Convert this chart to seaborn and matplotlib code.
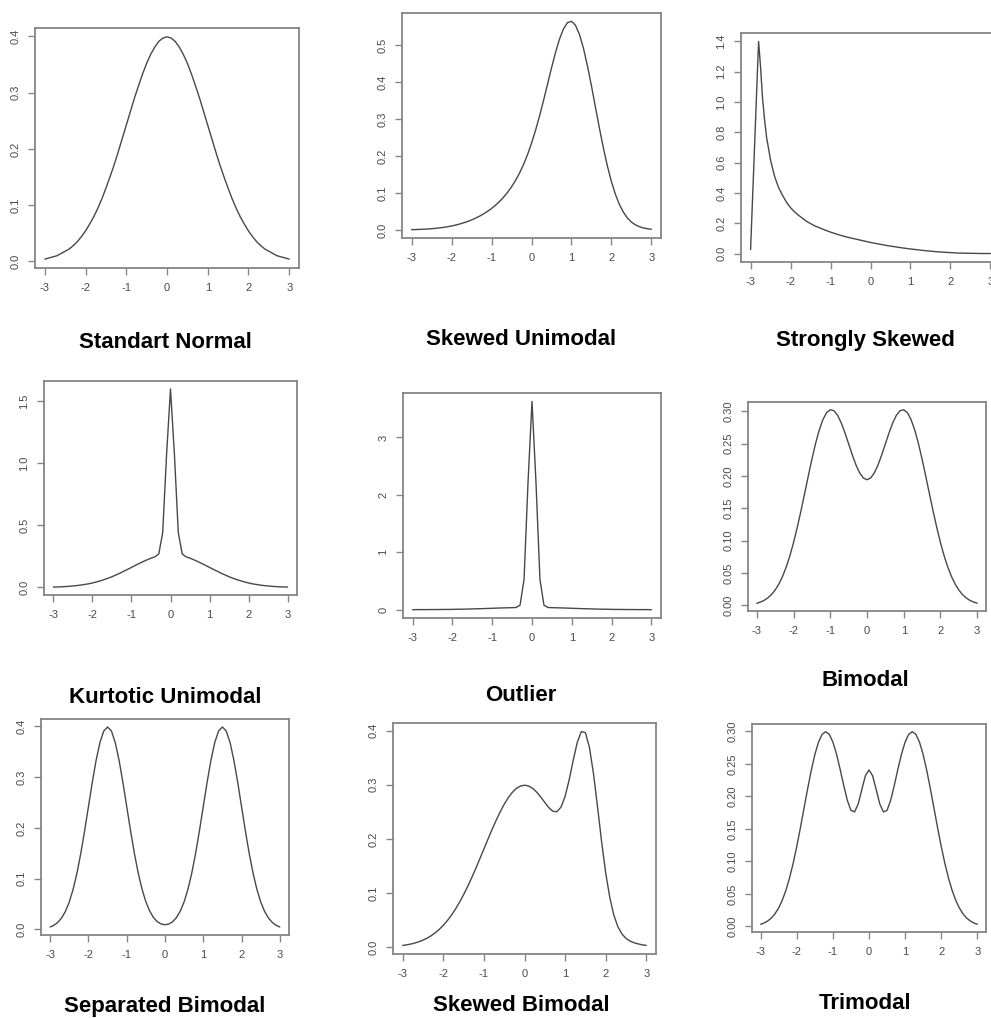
import matplotlib
matplotlib.use("Agg")
import matplotlib.pyplot as plt
import seaborn as sns


# x grids the densities were read on
X_FINE = [-3.0, -2.9, -2.8, -2.7, -2.6, -2.5, -2.4, -2.3, -2.2, -2.1,
          -2.0, -1.9, -1.8, -1.7, -1.6, -1.5, -1.4, -1.3, -1.2, -1.1,
          -1.0, -0.9, -0.8, -0.7, -0.6, -0.5, -0.4, -0.3, -0.2, -0.1,
          0.0, 0.1, 0.2, 0.3, 0.4, 0.5, 0.6, 0.7, 0.8, 0.9,
          1.0, 1.1, 1.2, 1.3, 1.4, 1.5, 1.6, 1.7, 1.8, 1.9,
          2.0, 2.1, 2.2, 2.3, 2.4, 2.5, 2.6, 2.7, 2.8, 2.9, 3.0]
# the strongly skewed curve: straight rise, then finer points down the peak
X_SKEW = [-3.0, -2.8, -2.75, -2.7, -2.65, -2.6, -2.5, -2.4, -2.3, -2.2,
          -2.1, -2.0, -1.9, -1.8, -1.6, -1.4, -1.2, -1.0, -0.8, -0.6,
          -0.4, -0.2, 0.0, 0.2, 0.4, 0.6, 0.8, 1.0, 1.2, 1.4,
          1.6, 1.8, 2.0, 2.2, 2.4, 2.6, 2.8, 3.0]

standard_normal = [0.004, 0.006, 0.008, 0.010, 0.014, 0.018, 0.022, 0.028, 0.035, 0.044,
                   0.054, 0.066, 0.079, 0.094, 0.111, 0.130, 0.150, 0.171, 0.194, 0.218,
                   0.242, 0.266, 0.290, 0.312, 0.333, 0.352, 0.368, 0.381, 0.391, 0.397,
                   0.399, 0.397, 0.391, 0.381, 0.368, 0.352, 0.333, 0.312, 0.290, 0.266,
                   0.242, 0.218, 0.194, 0.171, 0.150, 0.130, 0.111, 0.094, 0.079, 0.066,
                   0.054, 0.044, 0.035, 0.028, 0.022, 0.018, 0.014, 0.010, 0.008, 0.006, 0.004]

skewed_unimodal = [0.0009, 0.0012, 0.0016, 0.0021, 0.0027, 0.0035, 0.0045, 0.0057, 0.0071, 0.0089,
                   0.0109, 0.0133, 0.0161, 0.0193, 0.0230, 0.0272, 0.0320, 0.0374, 0.0436, 0.0505,
                   0.0583, 0.0672, 0.0772, 0.0886, 0.1017, 0.1167, 0.1340, 0.1540, 0.1771, 0.2038,
                   0.2345, 0.2694, 0.3081, 0.3501, 0.3942, 0.4384, 0.4801, 0.5165, 0.5444, 0.5612,
                   0.5648, 0.5541, 0.5293, 0.4918, 0.4443, 0.3900, 0.3325, 0.2752, 0.2212, 0.1726,
                   0.1308, 0.0963, 0.0689, 0.0480, 0.0325, 0.0215, 0.0139, 0.0089, 0.0055, 0.0034, 0.0021]

strongly_skewed = [0.027, 1.399, 1.229, 1.021, 0.882, 0.767, 0.616, 0.510, 0.436, 0.384,
                   0.338, 0.303, 0.276, 0.253, 0.213, 0.184, 0.162, 0.142, 0.125, 0.110,
                   0.098, 0.086, 0.074, 0.064, 0.054, 0.046, 0.038, 0.031, 0.025, 0.019,
                   0.014, 0.010, 0.007, 0.004, 0.003, 0.002, 0.001, 0.001]

kurtotic_unimodal = [0.003, 0.004, 0.005, 0.007, 0.009, 0.012, 0.015, 0.019, 0.024, 0.029,
                     0.036, 0.044, 0.053, 0.063, 0.074, 0.086, 0.100, 0.114, 0.130, 0.145,
                     0.161, 0.177, 0.193, 0.208, 0.222, 0.235, 0.246, 0.269, 0.441, 1.071,
                     1.596, 1.071, 0.441, 0.269, 0.246, 0.235, 0.222, 0.208, 0.193, 0.177,
                     0.161, 0.145, 0.130, 0.114, 0.100, 0.086, 0.074, 0.063, 0.053, 0.044,
                     0.036, 0.029, 0.024, 0.019, 0.015, 0.012, 0.009, 0.007, 0.005, 0.004, 0.003]

outlier = [0.000, 0.001, 0.001, 0.001, 0.001, 0.002, 0.002, 0.003, 0.004, 0.004,
           0.005, 0.007, 0.008, 0.009, 0.011, 0.013, 0.015, 0.017, 0.019, 0.022,
           0.024, 0.027, 0.029, 0.031, 0.033, 0.035, 0.038, 0.078, 0.525, 2.217,
           3.630, 2.217, 0.525, 0.078, 0.038, 0.035, 0.033, 0.031, 0.029, 0.027,
           0.024, 0.022, 0.019, 0.017, 0.015, 0.013, 0.011, 0.009, 0.008, 0.007,
           0.005, 0.004, 0.004, 0.003, 0.002, 0.002, 0.001, 0.001, 0.001, 0.001, 0.000]

bimodal = [0.0033, 0.0052, 0.0078, 0.0116, 0.0168, 0.0238, 0.0330, 0.0447, 0.0592, 0.0767,
           0.0971, 0.1203, 0.1457, 0.1725, 0.1997, 0.2261, 0.2504, 0.2712, 0.2873, 0.2980,
           0.3025, 0.3010, 0.2939, 0.2820, 0.2667, 0.2497, 0.2326, 0.2171, 0.2049, 0.1970,
           0.1943, 0.1970, 0.2049, 0.2171, 0.2326, 0.2497, 0.2667, 0.2820, 0.2939, 0.3010,
           0.3025, 0.2980, 0.2873, 0.2712, 0.2504, 0.2261, 0.1997, 0.1725, 0.1457, 0.1203,
           0.0971, 0.0767, 0.0592, 0.0447, 0.0330, 0.0238, 0.0168, 0.0116, 0.0078, 0.0052, 0.0033]

separated_bimodal = [0.0044, 0.0079, 0.0136, 0.0224, 0.0355, 0.0540, 0.0790, 0.1109, 0.1497, 0.1942,
                     0.2420, 0.2897, 0.3332, 0.3683, 0.3910, 0.3989, 0.3910, 0.3683, 0.3332, 0.2897,
                     0.2420, 0.1942, 0.1497, 0.1109, 0.0790, 0.0541, 0.0358, 0.0230, 0.0148, 0.0103,
                     0.0089, 0.0103, 0.0148, 0.0230, 0.0358, 0.0541, 0.0790, 0.1109, 0.1497, 0.1942,
                     0.2420, 0.2897, 0.3332, 0.3683, 0.3910, 0.3989, 0.3910, 0.3683, 0.3332, 0.2897,
                     0.2420, 0.1942, 0.1497, 0.1109, 0.0790, 0.0540, 0.0355, 0.0224, 0.0136, 0.0079, 0.0044]

skewed_bimodal = [0.0033, 0.0045, 0.0059, 0.0078, 0.0102, 0.0131, 0.0168, 0.0212, 0.0266, 0.0330,
                  0.0405, 0.0492, 0.0592, 0.0705, 0.0832, 0.0971, 0.1123, 0.1285, 0.1456, 0.1634,
                  0.1815, 0.1996, 0.2173, 0.2342, 0.2499, 0.2641, 0.2762, 0.2860, 0.2933, 0.2977,
                  0.2992, 0.2978, 0.2934, 0.2865, 0.2775, 0.2674, 0.2577, 0.2510, 0.2503, 0.2588,
                  0.2786, 0.3090, 0.3452, 0.3784, 0.3983, 0.3963, 0.3692, 0.3204, 0.2588, 0.1948,
                  0.1376, 0.0922, 0.0596, 0.0380, 0.0246, 0.0164, 0.0115, 0.0083, 0.0061, 0.0045, 0.0033]

trimodal = [0.0033, 0.0054, 0.0086, 0.0131, 0.0197, 0.0286, 0.0405, 0.0557, 0.0746, 0.0971,
            0.1230, 0.1515, 0.1815, 0.2114, 0.2396, 0.2641, 0.2830, 0.2951, 0.2993, 0.2953,
            0.2834, 0.2649, 0.2417, 0.2166, 0.1938, 0.1785, 0.1760, 0.1880, 0.2102, 0.2316,
            0.2405, 0.2316, 0.2102, 0.1880, 0.1760, 0.1785, 0.1938, 0.2166, 0.2417, 0.2649,
            0.2834, 0.2953, 0.2993, 0.2951, 0.2830, 0.2641, 0.2396, 0.2114, 0.1815, 0.1515,
            0.1230, 0.0971, 0.0746, 0.0557, 0.0405, 0.0286, 0.0197, 0.0131, 0.0086, 0.0054, 0.0033]

titles = ["Standart Normal", "Skewed Unimodal", "Strongly Skewed",
          "Kurtotic Unimodal", "Outlier", "Bimodal",
          "Separated Bimodal", "Skewed Bimodal", "Trimodal"]

x_ticks = [-3, -2, -1, 0, 1, 2, 3]
y_ticks = [
    ([0.0, 0.1, 0.2, 0.3, 0.4], "{:.1f}"),
    ([0.0, 0.1, 0.2, 0.3, 0.4, 0.5], "{:.1f}"),
    ([0.0, 0.2, 0.4, 0.6, 0.8, 1.0, 1.2, 1.4], "{:.1f}"),
    ([0.0, 0.5, 1.0, 1.5], "{:.1f}"),
    ([0, 1, 2, 3], "{:.0f}"),
    ([0.0, 0.05, 0.10, 0.15, 0.20, 0.25, 0.30], "{:.2f}"),
    ([0.0, 0.1, 0.2, 0.3, 0.4], "{:.1f}"),
    ([0.0, 0.1, 0.2, 0.3, 0.4], "{:.1f}"),
    ([0.0, 0.05, 0.10, 0.15, 0.20, 0.25, 0.30], "{:.2f}"),
]

series = [
    (X_FINE, standard_normal), (X_FINE, skewed_unimodal), (X_SKEW, strongly_skewed),
    (X_FINE, kurtotic_unimodal), (X_FINE, outlier), (X_FINE, bimodal),
    (X_FINE, separated_bimodal), (X_FINE, skewed_bimodal), (X_FINE, trimodal),
]

# plot box in pixels (left, top, right, bottom) and title anchor (centre x, baseline y)
boxes = [
    (35, 28, 299, 268), (402, 13, 661, 238), (741, 33, 1000, 262),
    (44, 381, 297, 595), (403, 393, 661, 618), (748, 402, 986, 611),
    (41, 719, 289, 935), (393, 723, 656, 954), (752, 724, 986, 932),
]
title_pos = [
    (165, 348), (521, 345), (865, 346),
    (165, 703), (521, 701), (865, 686),
    (165, 1012), (521, 1011), (865, 1009),
]

sns.set_style("white")
plt.rcParams["font.family"] = ["Liberation Sans", "DejaVu Sans"]

W, H = 991, 1018
fig = plt.figure(figsize=(W / 100, H / 100), dpi=100)

box_col = "#858585"
for i in range(9):
    xs, ys = series[i]
    l, t, r, b = boxes[i]
    ax = fig.add_axes([l / W, 1 - b / H, (r - l) / W, (b - t) / H])
    sns.lineplot(x=xs, y=ys, ax=ax, color="#484848", linewidth=1.0)

    # R style 4% padding around the data range
    xr = max(xs) - min(xs)
    yr = max(ys) - min(ys)
    ax.set_xlim(min(xs) - 0.04 * xr, max(xs) + 0.04 * xr)
    ax.set_ylim(min(ys) - 0.04 * yr, max(ys) + 0.04 * yr)

    ax.set_xticks(x_ticks)
    ax.set_xticklabels([str(v) for v in x_ticks])
    yt, fmt = y_ticks[i]
    ax.set_yticks(yt)
    ax.set_yticklabels([fmt.format(v) for v in yt], rotation=90, va="center")

    ax.set_xlabel("")
    ax.set_ylabel("")
    for sp in ax.spines.values():
        sp.set_visible(True)
        sp.set_color(box_col)
        sp.set_linewidth(1.3)
    ax.tick_params(direction="out", length=5, width=1.0, color=box_col,
                   labelsize=8, labelcolor="#4a4a4a", pad=5.5,
                   bottom=True, left=True)

    cx, cy = title_pos[i]
    fig.text(cx / W, 1 - cy / H, titles[i], ha="center", va="baseline",
             fontsize=16, fontweight="bold", color="black")

fig.savefig("out.png", dpi=100)
